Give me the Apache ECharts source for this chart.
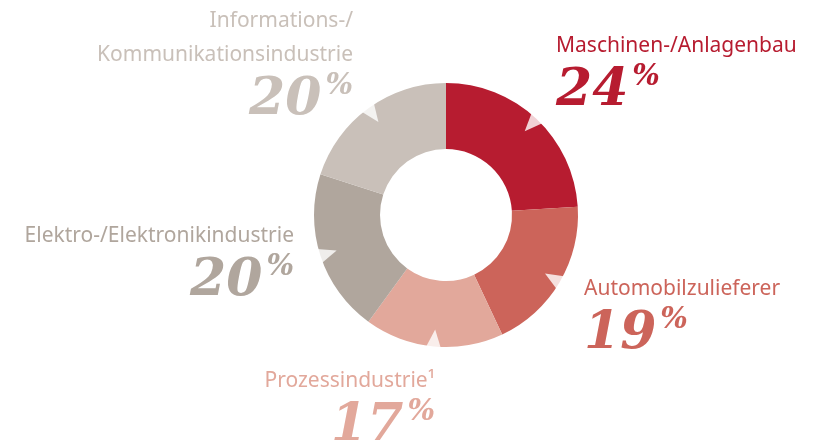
<!DOCTYPE html>
<html>
<head>
<meta charset="utf-8">
<script src="https://cdn.jsdelivr.net/npm/echarts@6/dist/echarts.min.js"></script>
<style>
  body { margin: 0; background: #fff; }
  #chart { width: 817px; height: 445px; }
</style>
</head>
<body>
<div id="chart"></div>
<script>
// branches and their share in percent
var names = [
  'Maschinen-/Anlagenbau',
  'Automobilzulieferer',
  'Prozessindustrie\u00b9',
  'Elektro-/Elektronikindustrie',
  'Informations-/\nKommunikationsindustrie'
];
var shares = [24, 19, 17, 20, 20];
var colors = ['#b71c30', '#cc645a', '#e2a89b', '#b0a69d', '#c9c0b9'];

// where each label block sits (x anchor, block top, alignment)
var labelPos = [
  { x: 556, y: 29, align: 'left' },
  { x: 584, y: 272, align: 'left' },
  { x: 435, y: 364, align: 'right' },
  { x: 294, y: 219, align: 'right' },
  { x: 353, y: 4, align: 'right' }
];

var chartDom = document.getElementById('chart');
var myChart = echarts.init(chartDom);
var option;

var total = shares.reduce(function (a, b) { return a + b; }, 0);

// notch markers in the middle of each slice, on the outer rim
var notches = [];
var acc = 0;
shares.forEach(function (v) {
  var mid = acc + v / 2;
  acc += v;
  notches.push({
    value: [1, mid / total * 100],
    symbolRotate: 180 - mid / total * 360
  });
});

var pieData = shares.map(function (v, i) {
  return {
    name: names[i],
    value: v,
    itemStyle: { color: colors[i] },
    label: { color: colors[i] }
  };
});

option = {
  backgroundColor: '#fff',
  animation: false,
  polar: {
    center: [446, 215],
    radius: [0, 132]
  },
  angleAxis: {
    type: 'value',
    min: 0,
    max: 100,
    startAngle: 90,
    clockwise: true,
    show: false
  },
  radiusAxis: {
    type: 'value',
    min: 0,
    max: 1,
    show: false
  },
  series: [
    {
      type: 'pie',
      center: [446, 215],
      radius: [66, 132],
      startAngle: 90,
      clockwise: true,
      avoidLabelOverlap: false,
      silent: true,
      data: pieData,
      labelLine: { show: false },
      label: {
        show: true,
        position: 'outside',
        padding: 0,
        formatter: function (p) {
          var lines = p.name.split('\n').map(function (t) {
            return '{name|' + t + '}';
          });
          return lines.join('\n') + '\n{pct|' + p.value + '}{sup|%}';
        },
        rich: {
          name: {
            fontFamily: 'Noto Sans',
            fontSize: 21,
            lineHeight: 34,
            verticalAlign: 'middle'
          },
          pct: {
            fontFamily: 'DejaVu Serif',
            fontWeight: 'bold',
            fontStyle: 'italic',
            fontSize: 52,
            lineHeight: 57,
            verticalAlign: 'middle'
          },
          sup: {
            fontFamily: 'DejaVu Serif',
            fontWeight: 'bold',
            fontStyle: 'italic',
            fontSize: 29,
            lineHeight: 39,
            padding: [0, 0, 0, 4],
            verticalAlign: 'top'
          }
        }
      },
      labelLayout: function (params) {
        var pos = labelPos[params.dataIndex];
        return {
          x: pos.x,
          y: pos.y,
          align: pos.align,
          verticalAlign: 'top'
        };
      }
    },
    {
      type: 'scatter',
      coordinateSystem: 'polar',
      silent: true,
      symbol: 'triangle',
      symbolSize: [28, 34],
      itemStyle: { color: '#fff' },
      data: notches,
      z: 5
    }
  ]
};

option && myChart.setOption(option);
</script>
</body>
</html>
